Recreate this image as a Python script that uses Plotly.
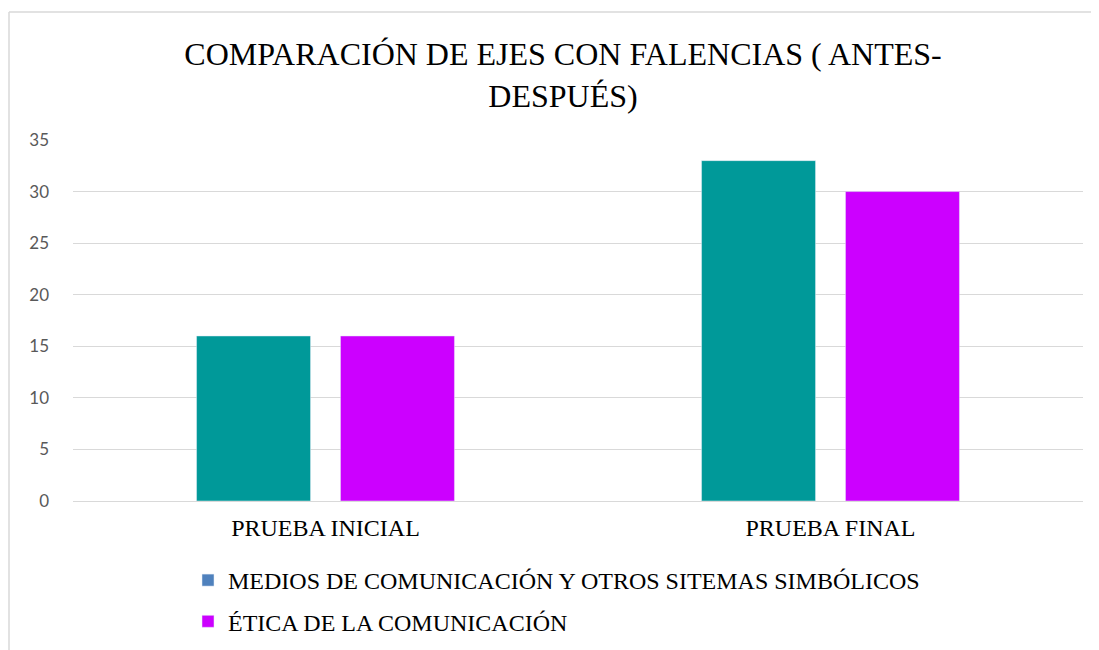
import plotly.graph_objects as go

categories = ["PRUEBA INICIAL", "PRUEBA FINAL"]
series_names = ["MEDIOS DE COMUNICACIÓN Y OTROS SITEMAS SIMBÓLICOS", "ÉTICA DE LA COMUNICACIÓN"]
medios = [16, 33]
etica = [16, 30]
bar_colors = ["#009999", "#CC00FF"]
legend_colors = ["#4F81BD", "#CC00FF"]
y_ticks = [0, 5, 10, 15, 20, 25, 30, 35]

fig = go.Figure()
for name, vals, col in zip(series_names, [medios, etica], bar_colors):
    fig.add_trace(go.Bar(x=categories, y=vals, name=name, marker_color=col,
                         showlegend=False))
# legend-only entries on a hidden overlay axis (the reference legend swatch differs)
for i, (name, col) in enumerate(zip(series_names, legend_colors)):
    fig.add_trace(go.Bar(x=[categories[0]], y=[None], name=name, marker_color=col,
                         legendgroup=f"g{i}", showlegend=True, hoverinfo="skip",
                         xaxis="x2", yaxis="y2"))

OFF = 8  # page body margin
W, H = 1099 - OFF, 650 - OFF
l, t = 73 - OFF, 140 - OFF
pw, ph = 1010, 361
r, b = W - l - pw, H - t - ph

def px_x(x):  # page pixel -> paper fraction
    return (x - OFF - l) / pw

def px_y(y):
    return (t + ph - (y - OFF)) / ph

fig.update_layout(
    width=W, height=H,
    margin=dict(l=l, r=r, t=t, b=b, autoexpand=False),
    paper_bgcolor="white", plot_bgcolor="white",
    barmode="group", bargap=0.43, bargroupgap=0.208,
    title=dict(text="COMPARACIÓN DE EJES CON FALENCIAS ( ANTES-<br>DESPUÉS)",
               x=px_x(563), xanchor="center", xref="paper", y=1 - 57 / H, yanchor="top",
               font=dict(family="Liberation Serif", size=32, color="#000000")),
    font=dict(family="Liberation Serif", color="#000000"),
    legend=dict(orientation="v", x=px_x(188), xanchor="left", y=px_y(558), yanchor="top",
                font=dict(family="Liberation Serif", size=24, color="#000000"),
                itemwidth=30, tracegroupgap=7, bgcolor="rgba(0,0,0,0)"),
    xaxis=dict(showgrid=False, showline=False, ticks="", fixedrange=True, automargin=False,
               ticklabelstandoff=10,
               tickfont=dict(family="Liberation Serif", size=24, color="#000000")),
    yaxis=dict(range=[0, 35], tickvals=y_ticks, showgrid=True, gridcolor="#D9D9D9",
               gridwidth=1, zeroline=True, zerolinecolor="#D9D9D9", zerolinewidth=1,
               showline=False, ticks="", ticklabelstandoff=23, automargin=False,
               tickfont=dict(family="Lato", size=17, color="#595959")),
    xaxis2=dict(overlaying="x", visible=False),
    yaxis2=dict(overlaying="y", visible=False, range=[0, 35]),
    shapes=[
        dict(type="line", xref="paper", yref="paper", x0=px_x(9), x1=px_x(1110),
             y0=px_y(12), y1=px_y(12), line=dict(color="#D9D9D9", width=1.5)),
        dict(type="line", xref="paper", yref="paper", x0=px_x(9), x1=px_x(9),
             y0=px_y(12), y1=px_y(660), line=dict(color="#D9D9D9", width=1.5)),
    ],
)

fig.write_html("out.html")
